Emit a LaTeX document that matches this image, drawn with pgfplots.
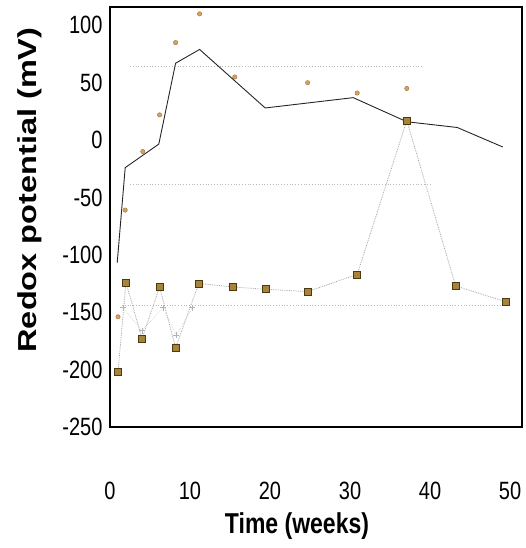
\documentclass[border=0pt]{standalone}
\usepackage{pgfplots}
\pgfplotsset{compat=1.18}
\usepackage{fontspec}
\setmainfont{Liberation Sans}
\definecolor{tan}{HTML}{D9A25A}
\definecolor{sqfill}{HTML}{A8843A}
\definecolor{sqdraw}{HTML}{4A3A10}
\begin{document}
\begin{tikzpicture}
\begin{axis}[
  at={(0pt,0pt)}, anchor=south west,
  scale only axis, width=412pt, height=420pt,
  xmin=0, xmax=51.5, ymin=-250, ymax=116,
  xtick={0,10,20,30,40,50}, ytick={-250,-200,-150,-100,-50,0,50,100},
  major tick length=0pt,
  axis line style={line width=1.5pt},
  clip=false,
  /pgf/number format/assume math mode=true,
  xticklabel={\scalebox{1}[1.25]{\pgfmathprintnumber{\tick}}},
  yticklabel={\scalebox{1}[1.25]{\pgfmathprintnumber{\tick}}},
  ticklabel style={font=\fontsize{20}{22}\selectfont},
  xticklabel style={yshift=-52pt},
  yticklabel style={xshift=-4pt},
]
% faint dotted guide lines
\addplot[gray!55, dotted, line width=0.8pt] coordinates {(2.5,64) (39,64)};
\addplot[gray!55, dotted, line width=0.8pt] coordinates {(2.5,-39) (40,-39)};
\addplot[gray!55, dotted, line width=0.8pt] coordinates {(1.5,-144) (50,-144)};
% third faint series
\addplot[gray!60, densely dotted, mark=+, mark size=3pt, mark options={solid}] coordinates {(1.6,-146) (4,-166) (6.6,-146) (8.3,-170) (10.3,-146)};
% squares series
\addplot[gray!70, densely dotted, line width=0.8pt, mark=square*, mark size=3.5pt,
  mark options={solid, fill=sqfill, draw=sqdraw, line width=0.6pt}] coordinates {
(1,-202) (2,-124) (4,-173) (6.2,-128) (8.2,-181) (11.1,-125) (15.4,-128) (19.5,-130) (24.7,-132) (30.9,-117) (37.1,17) (43.2,-127) (49.5,-141)};
% trend line
\addplot[black!85, line width=0.9pt] coordinates {
(0.9,-107) (1.9,-24) (6.1,-3.5) (8.2,67) (11.2,79) (19.4,28) (30.4,37) (37.1,16) (43.4,11) (49.1,-6)};
% upper markers
\addplot[only marks, mark=*, mark size=2.2pt, mark options={fill=tan, draw=tan!70!black}] coordinates {
(1,-154) (1.9,-61) (4.1,-10) (6.2,22) (8.2,85) (11.2,110) (15.6,55) (24.7,50) (30.9,41) (37.1,45)};
\end{axis}
\node[rotate=90, font=\bfseries\fontsize{26}{28}\selectfont] at (-80pt,237pt) {\scalebox{1.25}[1]{Redox potential (mV)}};
\node[font=\bfseries\fontsize{23}{26}\selectfont] at (187pt,-99pt) {\scalebox{1}[1.25]{Time (weeks)}};
\pgfresetboundingbox
\path[use as bounding box] (-110pt,-121pt) rectangle (415pt,427pt);
\end{tikzpicture}
\end{document}
